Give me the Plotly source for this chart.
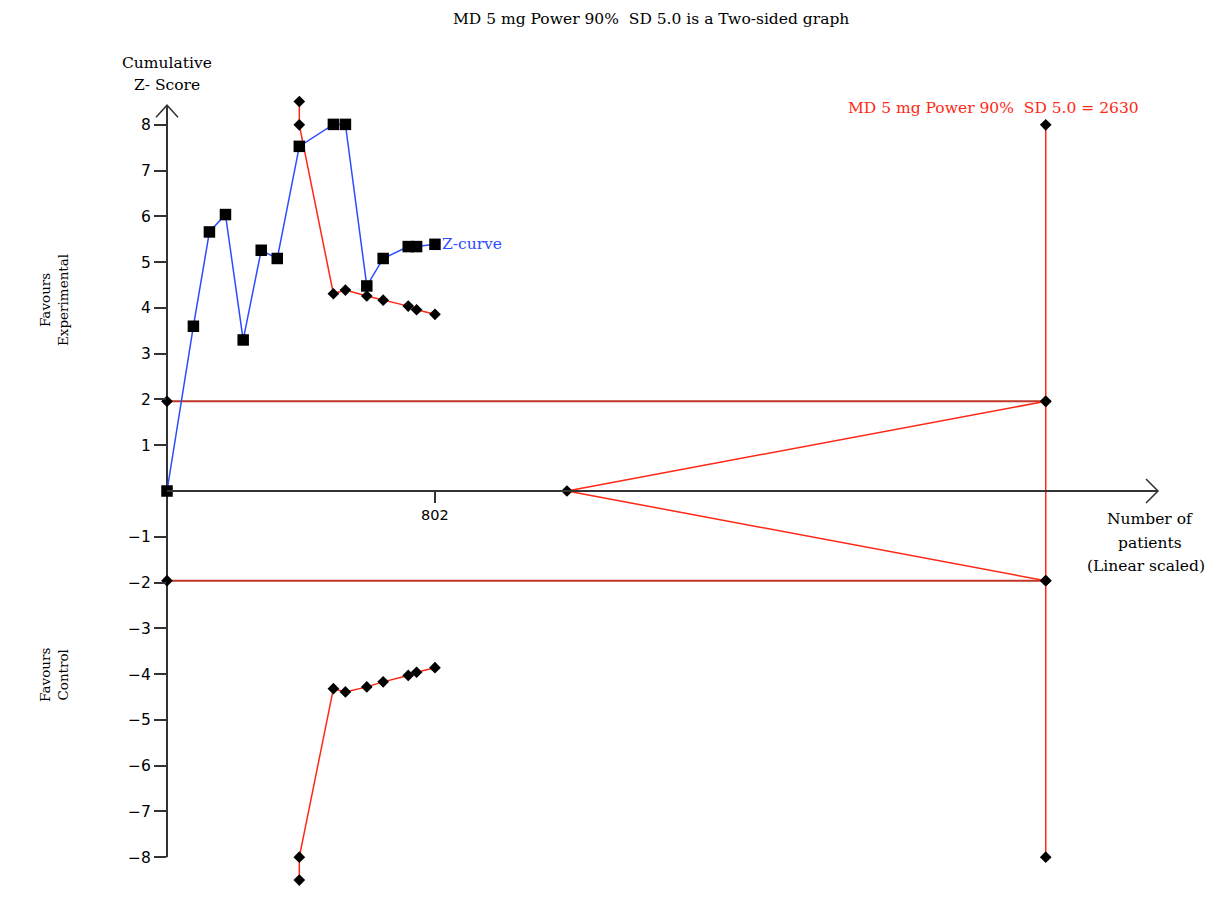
import plotly.graph_objects as go

W, H = 1232, 900
OFF = 8  # page body margin offset of the figure inside the browser window

# ---- data ----
z_patients = [0, 79, 127, 175, 228, 282, 330, 396, 498, 534, 598, 647, 722, 747, 802]
z_scores = [0.0, 3.60, 5.66, 6.04, 3.30, 5.26, 5.08, 7.53, 8.01, 8.01, 4.48, 5.08, 5.34, 5.34, 5.39]

bound_patients = [396, 396, 498, 534, 598, 647, 722, 747, 802]
upper_bound = [8.51, 8.00, 4.31, 4.39, 4.26, 4.17, 4.04, 3.96, 3.86]
lower_bound = [-8.50, -8.00, -4.32, -4.39, -4.28, -4.17, -4.03, -3.96, -3.86]

conv_z = 1.96
ris = 2630            # required information size
futility_start = 1197
ris_line_z = [8, conv_z, -conv_z, -8]

y_ticks = [-8, -7, -6, -5, -4, -3, -2, -1, 1, 2, 3, 4, 5, 6, 7, 8]
x_ticks = [802]

title_text = "MD 5 mg Power 90%\u00a0 SD 5.0 is a Two-sided graph"
ris_label = "MD 5 mg Power 90%\u00a0 SD 5.0 = 2630"

# ---- layout geometry (target screen pixels) ----
x0_px, x_end_px = 167, 1158        # x=0 pixel, x-axis arrow tip pixel
y0_px, y_unit_px = 491, 45.77      # z=0 pixel, pixels per z unit
x_max = 2966
y_axis_bottom, y_axis_top = -8, 8.43
y_min, y_max = -8.8, 8.8           # plotting range (wider than drawn axis)

RED = "rgb(255,40,20)"
DARKRED = "rgb(190,55,40)"
BLUE = "rgb(45,75,255)"
AXIS = "#333"
SERIF = "DejaVu Serif"
SANS = "DejaVu Sans"


def xpaper_px(px):
    return (px - OFF) / W


def ypaper_px(py):
    return 1 - (py - OFF) / H


def ypaper(z):
    return ypaper_px(y0_px - z * y_unit_px)


xd = [xpaper_px(x0_px), xpaper_px(x_end_px)]
yd = [ypaper(y_min), ypaper(y_max)]

diamond = dict(symbol="diamond", size=9, color="black")

fig = go.Figure()

# horizontal conventional boundaries
for zc in (conv_z, -conv_z):
    fig.add_trace(go.Scatter(x=[0, ris], y=[zc, zc], mode="lines+markers",
                             line=dict(color=DARKRED, width=2), marker=diamond,
                             cliponaxis=False, hoverinfo="skip"))

# futility wedge
fig.add_trace(go.Scatter(x=[ris, futility_start, ris], y=[conv_z, 0, -conv_z],
                         mode="lines", line=dict(color=RED, width=1.5),
                         cliponaxis=False, hoverinfo="skip"))
fig.add_trace(go.Scatter(x=[futility_start], y=[0], mode="markers", marker=diamond,
                         cliponaxis=False, hoverinfo="skip"))

# RIS vertical line
fig.add_trace(go.Scatter(x=[ris] * len(ris_line_z), y=ris_line_z, mode="lines+markers",
                         line=dict(color=RED, width=1.5), marker=diamond,
                         cliponaxis=False, hoverinfo="skip"))

# monitoring boundaries
for b in (upper_bound, lower_bound):
    fig.add_trace(go.Scatter(x=bound_patients, y=b, mode="lines+markers",
                             line=dict(color=RED, width=1.5), marker=diamond,
                             cliponaxis=False, hoverinfo="skip"))

# Z-curve
fig.add_trace(go.Scatter(x=z_patients, y=z_scores, mode="lines+markers",
                         line=dict(color=BLUE, width=1.5),
                         marker=dict(symbol="square", size=11.5, color="black"),
                         cliponaxis=False, hoverinfo="skip"))

# vertical axis line (from -8 to arrow tip) and arrow heads, in paper space
fig.add_shape(type="line", xref="paper", yref="paper", x0=xd[0], x1=xd[0],
              y0=ypaper(y_axis_bottom), y1=ypaper(y_axis_top),
              line=dict(color=AXIS, width=2), layer="below")
fig.add_shape(type="path", xref="paper", yref="paper", xsizemode="pixel", ysizemode="pixel",
              xanchor=xd[0], yanchor=ypaper(y_axis_top), path="M -11,-12 L 0,0 L 11,-12",
              line=dict(color=AXIS, width=1.5))
fig.add_shape(type="path", xref="paper", yref="paper", xsizemode="pixel", ysizemode="pixel",
              xanchor=xd[1], yanchor=ypaper(0), path="M -12,12 L 0,0 L -12,-12",
              line=dict(color=AXIS, width=1.5))


ann = []


def txt(text, px, py, size=15.5, color="black", angle=0, xanchor="center", font=SERIF):
    ann.append(dict(text=text, x=xpaper_px(px), y=ypaper_px(py), xref="paper", yref="paper",
                    showarrow=False, xanchor=xanchor, yanchor="middle", textangle=angle,
                    font=dict(family=font, size=size, color=color)))


txt(title_text, 651, 19)
txt("Cumulative", 167, 63)
txt("Z- Score", 167, 85)
txt("Number of", 1150, 519)
txt("patients", 1150, 543)
txt("(Linear scaled)", 1146, 566)
txt("Favours<br>Experimental", 54, 300, size=13.5, angle=-90)
txt("Favours<br>Control", 54, 675, size=13.5, angle=-90)
txt(ris_label, 993, 108, color=RED)

ann.append(dict(text="Z-curve", x=z_patients[-1], y=z_scores[-1], xref="x", yref="y",
                showarrow=False, xanchor="left", yanchor="middle", xshift=5,
                font=dict(family=SERIF, size=15.5, color=BLUE)))

fig.update_layout(
    width=W, height=H, margin=dict(l=0, r=0, t=0, b=0, autoexpand=False),
    paper_bgcolor="white", plot_bgcolor="white", showlegend=False,
    annotations=ann,
    xaxis=dict(domain=xd, range=[0, x_max], automargin=False,
               anchor="free", position=ypaper(0),
               showgrid=False, zeroline=False, showline=True, linecolor=AXIS, linewidth=2,
               ticks="outside", ticklen=11, tickwidth=2, tickcolor=AXIS,
               tickvals=x_ticks, ticktext=[str(v) for v in x_ticks],
               tickfont=dict(family=SANS, size=14.5, color="black"), fixedrange=True),
    yaxis=dict(domain=yd, range=[y_min, y_max], automargin=False,
               showgrid=False, zeroline=False, showline=False,
               ticks="outside", ticklen=12, tickwidth=2, tickcolor=AXIS,
               tickvals=y_ticks,
               ticktext=[("\u2212" + str(-v)) if v < 0 else str(v) for v in y_ticks],
               tickfont=dict(family=SANS, size=15.5, color="black"), fixedrange=True),
)

fig.write_html("out.html")
